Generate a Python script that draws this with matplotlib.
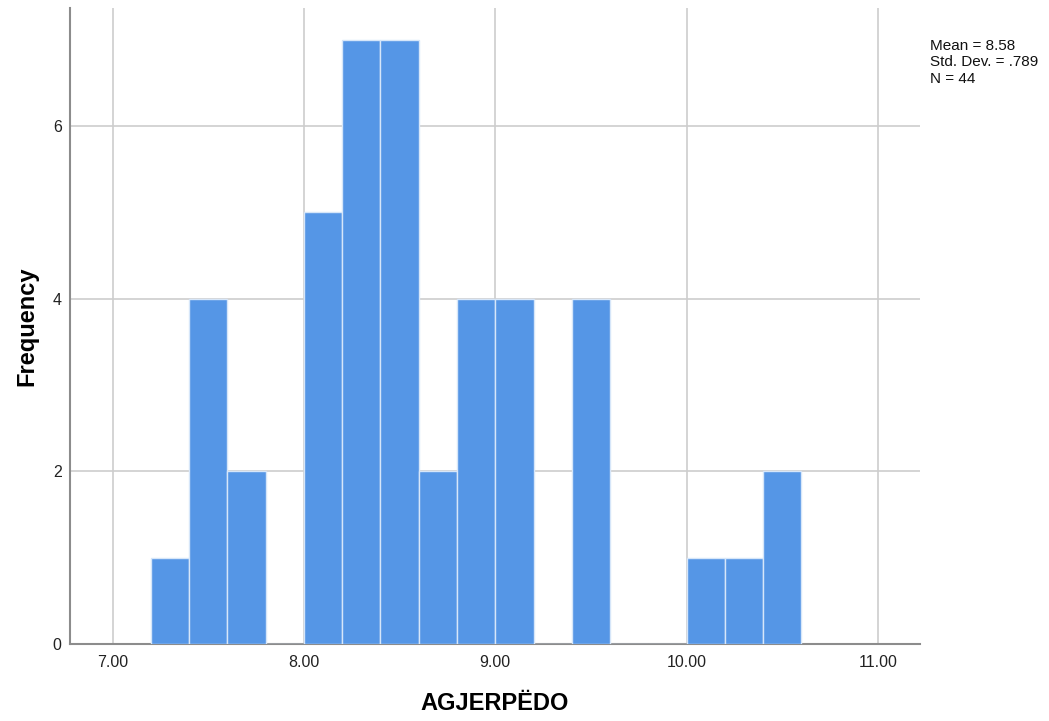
import matplotlib
matplotlib.use("Agg")
import matplotlib.pyplot as plt
import numpy as np

bin_edges = [7.2, 7.4, 7.6, 7.8, 8.0, 8.2, 8.4, 8.6, 8.8, 9.0, 9.2, 9.4, 9.6, 9.8, 10.0, 10.2, 10.4, 10.6]
counts = [1, 4, 2, 0, 5, 7, 7, 2, 4, 4, 0, 4, 0, 0, 1, 1, 2]
x_ticks = [7.0, 8.0, 9.0, 10.0, 11.0]
x_tick_labels = ["7.00", "8.00", "9.00", "10.00", "11.00"]
y_ticks = [0, 2, 4, 6]
stats_text = "Mean = 8.58\nStd. Dev. = .789\nN = 44"
x_label = "AGJERPËDO"
y_label = "Frequency"

plt.rcParams['font.family'] = ['Liberation Sans', 'DejaVu Sans']

fig = plt.figure(figsize=(10.49, 7.21), dpi=100)
ax = fig.add_axes([70/1049, 1-644/721, (920-70)/1049, (644-8)/721])

lefts = bin_edges[:-1]
widths = np.diff(bin_edges)
ax.bar(lefts, counts, width=widths, align='edge', color='#5596E6',
       edgecolor='#D6E6F9', linewidth=1.0, zorder=3)

ax.set_xlim(6.777, 11.22)
ax.set_ylim(0, 7.367)
ax.set_xticks(x_ticks)
ax.set_xticklabels(x_tick_labels)
ax.set_yticks(y_ticks)
ax.tick_params(axis='both', length=0, labelsize=11.5, colors='#222222')
ax.tick_params(axis='x', pad=8)
ax.tick_params(axis='y', pad=6)

ax.grid(True, color='#CDCDCD', linewidth=1.2, zorder=0)
ax.set_axisbelow(True)
for s in ['top', 'right']:
    ax.spines[s].set_visible(False)
for s in ['left', 'bottom']:
    ax.spines[s].set_color('#8C8C8C')
    ax.spines[s].set_linewidth(1.5)

ax.set_xlabel(x_label, fontsize=17, fontweight='bold', labelpad=16)
ax.set_ylabel(y_label, fontsize=17, fontweight='bold', labelpad=10)

fig.text(930/1049, 1-39/721, stats_text, fontsize=11, va='top', ha='left',
         linespacing=1.22, color='#111111')

fig.savefig("out.png", dpi=100)
